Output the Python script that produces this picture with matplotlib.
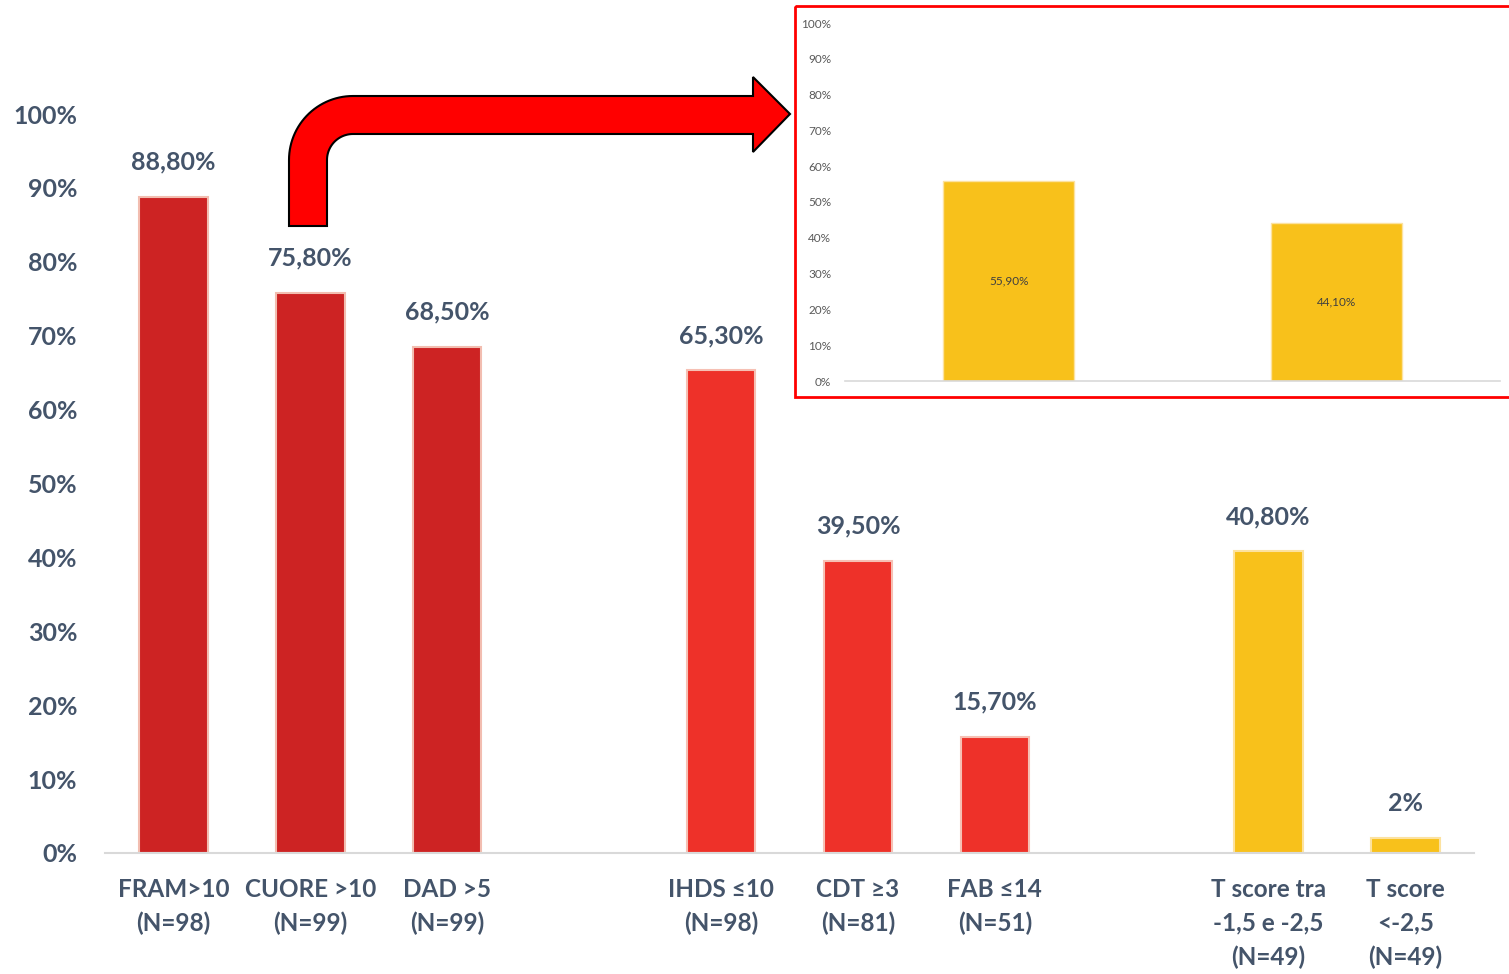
import numpy as np
import matplotlib.pyplot as plt
from matplotlib.path import Path
from matplotlib.patches import PathPatch, Rectangle

# Main chart: share of patients over each screening threshold
categories = ["FRAM>10\n(N=98)", "CUORE >10\n(N=99)", "DAD >5\n(N=99)",
              "IHDS ≤10\n(N=98)", "CDT ≥3\n(N=81)", "FAB ≤14\n(N=51)",
              "T score tra\n-1,5 e -2,5\n(N=49)", "T score\n<-2,5\n(N=49)"]
values = [88.8, 75.8, 68.5, 65.3, 39.5, 15.7, 40.8, 2]
value_labels = ["88,80%", "75,80%", "68,50%", "65,30%", "39,50%", "15,70%",
                "40,80%", "2%"]
group_sizes = [3, 3, 2]

# Inset breakdown
inset_values = [55.9, 44.1]
inset_labels = ["55,90%", "44,10%"]

W, H = 1509, 974
TEXT = "#44546A"
group_colors = ["#CD2323", "#EE3129", "#F8C11B"]
group_edges = ["#F2BDB0", "#F6C0B4", "#FCE2A0"]

plt.rcParams['font.family'] = ['Lato', 'DejaVu Sans']

fig = plt.figure(figsize=(W / 100, H / 100), dpi=100)
fig.patch.set_facecolor("white")


def px_box(left, top, right, bottom):
    return [left / W, 1 - bottom / H, (right - left) / W, (bottom - top) / H]


# slot positions with an empty slot between groups
x = []
colors = []
edges = []
pos = 0
for g, n in enumerate(group_sizes):
    for i in range(n):
        x.append(pos)
        colors.append(group_colors[g])
        edges.append(group_edges[g])
        pos += 1
    pos += 1

ax = fig.add_axes(px_box(105, 114, 1474, 853))
ax.bar(x, values, width=0.5, color=colors, edgecolor=edges, linewidth=1.5)
for xi, v, lab in zip(x, values, value_labels):
    ax.annotate(lab, (xi, v), xytext=(0, 25), textcoords="offset points",
                ha="center", va="center", fontsize=18, fontweight="bold",
                color=TEXT)
ax.set_xlim(-0.5, 9.5)
ax.set_ylim(0, 100)
ax.set_yticks(np.arange(0, 101, 10))
ax.set_yticklabels([f"{t}%" for t in range(0, 101, 10)], fontsize=18,
                   fontweight="bold", color=TEXT)
ax.set_xticks(x)
ax.set_xticklabels(categories, fontsize=17.5, fontweight="bold", color=TEXT,
                   linespacing=1.55)
ax.tick_params(axis="y", length=0, pad=20)
ax.tick_params(axis="x", length=0, pad=18)
for s in ["top", "right", "left"]:
    ax.spines[s].set_visible(False)
ax.spines["bottom"].set_color("#D9D9D9")
ax.spines["bottom"].set_linewidth(1.5)

# inset chart
ins = fig.add_axes(px_box(845, 23, 1500, 381))
ins.bar([0, 1], inset_values, width=0.4, color=group_colors[2],
        edgecolor=group_edges[2], linewidth=1)
for xi, v, lab in zip([0, 1], inset_values, inset_labels):
    ins.text(xi, v / 2, lab, ha="center", va="center", fontsize=8.5,
             color="#404040")
ins.set_xlim(-0.5, 1.5)
ins.set_ylim(0, 100)
ins.set_yticks(np.arange(0, 101, 10))
ins.set_yticklabels([f"{t}%" for t in range(0, 101, 10)], fontsize=8.5,
                    color="#595959")
ins.set_xticks([])
ins.tick_params(axis="y", length=0, pad=10)
for s in ["top", "right", "left"]:
    ins.spines[s].set_visible(False)
ins.spines["bottom"].set_color("#D9D9D9")
ins.spines["bottom"].set_linewidth(1.2)

# overlay in pixel coordinates for the frame and the bent arrow
over = fig.add_axes([0, 0, 1, 1], zorder=5)
over.set_xlim(0, W)
over.set_ylim(H, 0)
over.axis("off")
over.patch.set_alpha(0)

over.add_patch(Rectangle((795, 6), 720, 391, fill=False, edgecolor="#FF0000",
                         linewidth=2))

cx, cy = 353, 160
t_out = np.radians(np.linspace(180, 270, 30))
t_in = np.radians(np.linspace(270, 180, 30))
outer = np.column_stack([cx + 64 * np.cos(t_out), cy + 64 * np.sin(t_out)])
inner = np.column_stack([cx + 26 * np.cos(t_in), cy + 26 * np.sin(t_in)])
verts = np.vstack([
    [[289, 226]],
    outer,
    [[753, 96], [753, 77], [790, 114], [753, 152], [753, 134]],
    inner,
    [[327, 226], [289, 226]],
])
codes = [Path.MOVETO] + [Path.LINETO] * (len(verts) - 2) + [Path.CLOSEPOLY]
over.add_patch(PathPatch(Path(verts, codes), facecolor="#FF0000",
                         edgecolor="black", linewidth=1.5))

fig.savefig("out.png", dpi=100)
